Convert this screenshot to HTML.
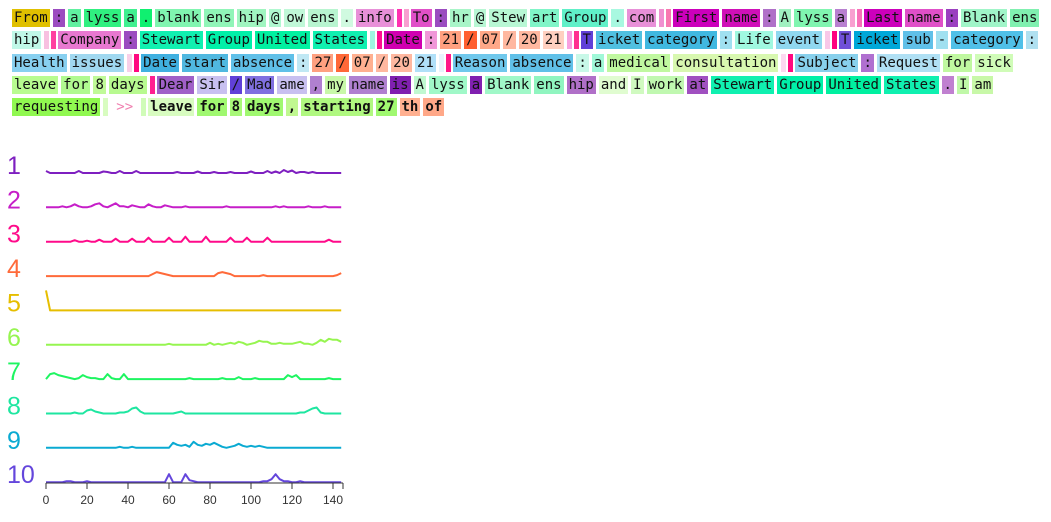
<!DOCTYPE html>
<html><head><meta charset="utf-8"><style>
body{margin:0;width:1051px;height:522px;background:#fff;overflow:hidden;position:relative;font-family:"DejaVu Sans Mono","Liberation Mono",monospace;}
.row{position:absolute;left:12px;white-space:nowrap;font-size:14px;height:18px;}
.t{display:inline-block;height:18px;line-height:18px;padding:0 2px;margin-right:3px;color:#111;vertical-align:top;}
.e{display:inline-block;width:5px;height:18px;margin-right:2px;vertical-align:top;}
.b .t{font-weight:bold;}
</style></head><body>
<div class="row" style="top:9px"><span class="t" style="background:#e0c000">From</span><span class="t" style="background:#9b4cc0">:</span><span class="t" style="background:#60f0a0">a</span><span class="t" style="background:#30f080">lyss</span><span class="t" style="background:#40f090">a</span><span class="t" style="background:#10f070">.</span><span class="t" style="background:#80f5b0">blank</span><span class="t" style="background:#90f5b8">ens</span><span class="t" style="background:#a0f5c0">hip</span><span class="t" style="background:#b0f8d0">@</span><span class="t" style="background:#c0f8d8">ow</span><span class="t" style="background:#b8f5d0">ens</span><span class="t" style="background:#d0fae0">.</span><span class="t" style="background:#e890d8">info</span><span class="e" style="background:#ff30b0"></span><span class="e" style="background:#f8a0d0"></span><span class="t" style="background:#e050c8">To</span><span class="t" style="background:#9b4cc0">:</span><span class="t" style="background:#a8f5c8">hr</span><span class="t" style="background:#b8f7d4">@</span><span class="t" style="background:#b8f7d4">Stew</span><span class="t" style="background:#80f5c8">art</span><span class="t" style="background:#60f0c8">Group</span><span class="t" style="background:#a8f8e0">.</span><span class="t" style="background:#e890d8">com</span><span class="e" style="background:#f090d0"></span><span class="e" style="background:#f878b0"></span><span class="t" style="background:#cc00bb">First</span><span class="t" style="background:#d010b8">name</span><span class="t" style="background:#b070c8">:</span><span class="t" style="background:#a0f0c0">A</span><span class="t" style="background:#80f5b0">lyss</span><span class="t" style="background:#b880d0">a</span><span class="e" style="background:#f8a0d0"></span><span class="e" style="background:#f870b8"></span><span class="t" style="background:#cc00bb">Last</span><span class="t" style="background:#e050c8">name</span><span class="t" style="background:#9b40c0">:</span><span class="t" style="background:#a0f5c8">Blank</span><span class="t" style="background:#80f0b0">ens</span></div>
<div class="row" style="top:31px"><span class="t" style="background:#c0f8e8">hip</span><span class="e" style="background:#f8c0e0"></span><span class="e" style="background:#ff40a0"></span><span class="t" style="background:#e878d0">Company</span><span class="t" style="background:#9b4cc0">:</span><span class="t" style="background:#10f0b0">Stewart</span><span class="t" style="background:#00f0a8">Group</span><span class="t" style="background:#00f0a0">United</span><span class="t" style="background:#10f0b0">States</span><span class="e" style="background:#a0f8e0"></span><span class="e" style="background:#ff1090"></span><span class="t" style="background:#d000b0">Date</span><span class="t" style="background:#f098d8">:</span><span class="t" style="background:#ffa080">21</span><span class="t" style="background:#ff6030">/</span><span class="t" style="background:#ffa888">07</span><span class="t" style="background:#ffb8a0">/</span><span class="t" style="background:#ffb8a0">20</span><span class="t" style="background:#ffd0c0">21</span><span class="e" style="background:#f8a0e0"></span><span class="e" style="background:#ff3090"></span><span class="t" style="background:#6040d8">T</span><span class="t" style="background:#50c0e0">icket</span><span class="t" style="background:#40b8e0">category</span><span class="t" style="background:#a0e0f0">:</span><span class="t" style="background:#a0f8e0">Life</span><span class="t" style="background:#90d8f0">event</span><span class="e" style="background:#f8c8e8"></span><span class="e" style="background:#ff0080"></span><span class="t" style="background:#7050d8">T</span><span class="t" style="background:#00a8d8">icket</span><span class="t" style="background:#60c0e8">sub</span><span class="t" style="background:#a0e0f0">-</span><span class="t" style="background:#50c0e8">category</span><span class="t" style="background:#b0e0f0">:</span></div>
<div class="row" style="top:54px"><span class="t" style="background:#88d0f0">Health</span><span class="t" style="background:#a0d8f0">issues</span><span class="e" style="background:#f8d0e8"></span><span class="e" style="background:#ff0880"></span><span class="t" style="background:#40b0e0">Date</span><span class="t" style="background:#50b8e0">start</span><span class="t" style="background:#60c0e8">absence</span><span class="t" style="background:#c0e8f4">:</span><span class="t" style="background:#ffa080">27</span><span class="t" style="background:#ff6838">/</span><span class="t" style="background:#ffb090">07</span><span class="t" style="background:#ffb8a0">/</span><span class="t" style="background:#ffb8a0">20</span><span class="t" style="background:#b0e0f8">21</span><span class="e" style="background:#e8f4fc"></span><span class="e" style="background:#ff1888"></span><span class="t" style="background:#70c8ec">Reason</span><span class="t" style="background:#60c0e8">absence</span><span class="t" style="background:#c8f8e8">:</span><span class="t" style="background:#a0f8d8">a</span><span class="t" style="background:#c0f8a0">medical</span><span class="t" style="background:#d8f8b0">consultation</span><span class="e" style="background:#fcd8f0"></span><span class="e" style="background:#ff0880"></span><span class="t" style="background:#88d0ec">Subject</span><span class="t" style="background:#b070d0">:</span><span class="t" style="background:#b0e0f4">Request</span><span class="t" style="background:#c0f8a0">for</span><span class="t" style="background:#d0fcb8">sick</span></div>
<div class="row" style="top:76px"><span class="t" style="background:#b8fc90">leave</span><span class="t" style="background:#b0fa90">for</span><span class="t" style="background:#c0fa98">8</span><span class="t" style="background:#b8fa90">days</span><span class="e" style="background:#ff2090"></span><span class="t" style="background:#a060c8">Dear</span><span class="t" style="background:#c8c0f0">Sir</span><span class="t" style="background:#6040d8">/</span><span class="t" style="background:#8070e0">Mad</span><span class="t" style="background:#c8c0f0">ame</span><span class="t" style="background:#b080d0">,</span><span class="t" style="background:#c8f8a8">my</span><span class="t" style="background:#b080d0">name</span><span class="t" style="background:#8020b0">is</span><span class="t" style="background:#c0f8d0">A</span><span class="t" style="background:#a0f8c8">lyss</span><span class="t" style="background:#8020b0">a</span><span class="t" style="background:#a0f8c8">Blank</span><span class="t" style="background:#90f5c0">ens</span><span class="t" style="background:#b070c8">hip</span><span class="t" style="background:#e0fcd0">and</span><span class="t" style="background:#d0fac0">I</span><span class="t" style="background:#c0f8b0">work</span><span class="t" style="background:#a050c0">at</span><span class="t" style="background:#10f0b0">Stewart</span><span class="t" style="background:#00f0a8">Group</span><span class="t" style="background:#00f0a0">United</span><span class="t" style="background:#10f0b0">States</span><span class="t" style="background:#c080d0">.</span><span class="t" style="background:#c0f8a8">I</span><span class="t" style="background:#c8f8a8">am</span></div>
<div class="row" style="top:98px"><span class="t" style="background:#90f850">requesting</span><span class="e" style="background:#d8fcc0"></span><span class="t" style="color:#f080b0;margin:0 6px 0 4px">&gt;&gt;</span><span class="e" style="background:#d0fcb8"></span><span class="b"><span class="t" style="background:#d8fcc0">leave</span><span class="t" style="background:#a0f870">for</span><span class="t" style="background:#a8f878">8</span><span class="t" style="background:#a0f870">days</span><span class="t" style="background:#c0f890">,</span><span class="t" style="background:#b0f880">starting</span><span class="t" style="background:#a0f870">27</span><span class="t" style="background:#ffb090">th</span><span class="t" style="background:#ffa888">of</span></span></div>

<svg id="chart" width="1051" height="522" style="position:absolute;left:0;top:0"></svg>
<script>
const labels=["1","2","3","4","5","6","7","8","9","10"];
const colors=["#7e1fc0","#c61ec8","#ff0a8a","#ff6a3a","#e6be00","#96f550","#1ef561","#1ee6a0","#0aaad2","#6446dc"];
const xTicks=[0,20,40,60,80,100,120,140];
const s1=[2,0,0,0,0,0,0,0,2,0, 0,0,0,0,1.5,1,0,0,2,0, 0,0,2,0,0,0,0,0,0,0, 0,0,1,0,0,0,0,1.5,0,0, 0,1,0,0,0,1,0,0,0,0, 1.5,0,0,0,2,0,1.5,0,3,1, 2.5,0,1,1,0,1,0,0,0,0, 0,0,0];
const s2=[0,0,0,0,1,0,1,3,1,0, 0,1,3,4,1,0,2,4,1,1, 0,2,1,0,0,3,1,0,0,2, 1,0,0,0,1,0,0,0,0,0, 0,0,0,0,1,0,0,0,0,0, 0,0,0,0,0,0,1,0,1,0, 0,0,0,0,1,0,0,0,1,0, 0,0,0];
const s3=[0,0,0,0,0,0,0,1.5,0,0, 1,0,0,2,0,0,0,3,0,0, 0,3,0,0,0,4,0,0,0,0, 4,0,0,0,5,0,0,0,0,5, 0,0,0,0,0,4,0,0,0,4, 0,0,0,0,4,0,0,0,0,0, 0,0,0,0,0,0,0,0,0,2, 0,0,0];
const s4=[0,0,0,0,0,0,0,0,0,0, 0,0,0,0,0,0,0,0,0,0, 0,0,0,0,0,0,2,4,3,2, 1,0,0,0,0,0,0,0,0,0, 0,0,3,4,3,2,0,0,0,0, 0,0,0,1,0,0,0,0,0,0, 0,0,0,0,0,0,0,0,0,0, 0,1,3];
const s5=[20,0,0,0,0,0,0,0,0,0, 0,0,0,0,0,0,0,0,0,0, 0,0,0,0,0,0,0,0,0,0, 0,0,0,0,0,0,0,0,0,0, 0,0,0,0,0,0,0,0,0,0, 0,0,0,0,0,0,0,0,0,0, 0,0,0,0,0,0,0,0,0,0, 0,0,0];
const s6=[0,0,0,0,0,0,0,0,0,0, 0,0,0,0,0,0,0,0,0,0, 0,0,0,0,0,0,0,0,0,0, 1,0,0,0,0,0,0,0,0,0, 2,0,1,0,1,2,1,3,2,0, 1,2,4,3,3,1,1,2,1,1, 1,2,3,1,1,0,2,5,3,6, 5,5,3];
const s7=[0,5,6,4,3,2,1,0,1,4, 2,1,1,0,0,5,1,0,0,5, 0,0,0,0,0,0,0,0,0,0, 0,0,0,0,0,1,0,0,0,0, 0,0,0,1,0,0,0,2,0,0, 0,1,0,0,0,0,0,0,0,4, 2,4,0,0,0,0,0,0,0,1, 0,0,0];
const s8=[0,0,0,0,0,0,0,1,0,0, 3,4,2,1,0,0,0,0,1,1, 2,5,6,2,0,0,0,0,0,0, 0,0,1,2,0,0,0,0,0,0, 0,0,0,0,0,0,0,0,0,0, 0,0,0,0,0,0,0,0,0,0, 0,0,1,1,3,5,6,1,0,0, 0,0,0];
const s9=[0,0,0,0,0,0,0,0,0,0, 0,0,0,0,0,0,0,0,1,0, 0,1,0,0,0,0,0,0,0,0, 0,5,3,2,3,1,6,3,2,4, 3,5,3,1,0,1,2,4,2,1, 2,1,2,1,0,0,0,0,0,0, 0,0,0,0,0,0,0,0,0,0, 0,0,0];
const s10=[0,0,0,0,0,1,1,0,0,0, 1,0,0,0,0,0,0,0,0,0, 0,0,0,0,0,0,0,0,0,0, 8,0,0,0,8,2,1,0,0,0, 0,0,0,0,0,0,0,0,0,0, 0,0,0,1,1,3,8,3,1,1, 0,0,1,0,0,0,0,0,0,0, 0,0,0];
const series=[s1,s2,s3,s4,s5,s6,s7,s8,s9,s10];
const NS="http://www.w3.org/2000/svg";
const svg=document.getElementById('chart');
const X0=46,XS=(333-46)/140;
const xPos=v=>X0+v*XS;
const baseY=i=>173+i*34.35;
const yPos=(i,v)=>baseY(i)-v;
function mk(tag,attrs){const e=document.createElementNS(NS,tag);for(const k in attrs)e.setAttribute(k,attrs[k]);svg.appendChild(e);return e;}
series.forEach((s,i)=>{
  const t=mk('text',{x:7,y:165+i*34.35+9,fill:colors[i],'font-size':25,'font-family':'Liberation Sans, sans-serif'});
  t.textContent=labels[i];
  
  
  const pts=s.map((v,k)=>xPos(k*2).toFixed(1)+','+yPos(i,v).toFixed(1)).join(' ');
  const p=mk('polyline',{points:pts,fill:'none',stroke:colors[i],'stroke-width':2,'stroke-linejoin':'round'});
  
  
});
const ax=mk('line',{x1:46,y1:483,x2:343,y2:483,stroke:'#333','stroke-width':1});


const tk=mk('line',{x1:343,y1:483,x2:343,y2:489,stroke:'#333'});


xTicks.forEach(v=>{
  const l=mk('line',{x1:xPos(v),y1:483,x2:xPos(v),y2:489,stroke:'#333'});
  
  
  const t=mk('text',{x:xPos(v),y:504,'text-anchor':'middle','font-size':12,fill:'#333','font-family':'Liberation Sans, sans-serif'});
  t.textContent=v;
  
  
});
</script>
</body></html>
